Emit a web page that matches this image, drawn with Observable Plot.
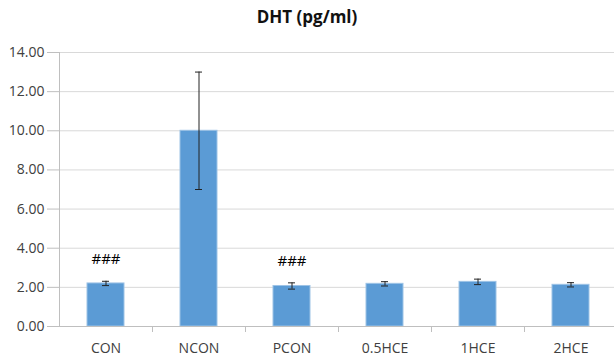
<!DOCTYPE html>
<html><head><meta charset="utf-8">
<script src="https://cdn.jsdelivr.net/npm/d3@7"></script>
<script src="https://cdn.jsdelivr.net/npm/@observablehq/plot@0.6"></script>
<style>
body{margin:0;background:#fff;font-family:"Open Sans",sans-serif;}
#title{height:40px;box-sizing:border-box;padding-top:4.5px;line-height:normal;text-align:center;font-weight:bold;font-size:17px;color:#111;width:614px;}
</style></head>
<body>
<div id="title">DHT (pg/ml)</div>
<div id="chart"></div>
<script>
const categories = ["CON","NCON","PCON","0.5HCE","1HCE","2HCE"];
const means = [2.20, 10.00, 2.07, 2.18, 2.28, 2.13];
const errors = [0.11, 3.00, 0.16, 0.11, 0.14, 0.11];
const marks = ["###", "", "###", "", "", ""];
const yTicks = [0,2,4,6,8,10,12,14];

const data = categories.map((c,i)=>({cat:c, mean:means[i], err:errors[i], mark:marks[i]}));

const chart = Plot.plot({
  width: 614,
  height: 318,
  marginTop: 12,
  marginBottom: 32,
  marginLeft: 59,
  marginRight: 0,
  style: {fontFamily: "Open Sans, sans-serif", fontSize: "14px", color: "#404040", background: "#fff"},
  x: {domain: categories, range: [59.3, 617.3], paddingInner: 0.6, paddingOuter: 0.3, label: null},
  y: {domain: [0,14], label: null},
  marks: [
    Plot.ruleY(yTicks, {stroke: "#d9d9d9", strokeWidth: 1}),
    Plot.axisY({ticks: yTicks, tickSize: 12, tickPadding: 3, tickFormat: d => d.toFixed(2), stroke: "#bfbfbf", fontSize: 14, label: null}),
    Plot.frame({anchor: "left", stroke: "#bfbfbf"}),
    Plot.barY(data, {x: "cat", y: "mean", fill: "#5b9bd5", stroke: "#9dc3e6", strokeWidth: 1}),
    Plot.ruleY([0], {stroke: "#bfbfbf"}),
    Plot.ruleX(categories.slice(1), {x: d => d, y1: 0, y2: 0, insetBottom: -6, dx: -46.5, stroke: "#bfbfbf"}),
    Plot.axisX({tickSize: 0, tickPadding: 17, fontSize: 14, label: null}),
    Plot.ruleX(data, {x: "cat", y1: d => d.mean - d.err, y2: d => d.mean + d.err, stroke: "#222", strokeWidth: 1}),
    Plot.tickY(data, {x: "cat", y: d => d.mean + d.err, stroke: "#222", insetLeft: 15, insetRight: 15}),
    Plot.tickY(data, {x: "cat", y: d => d.mean - d.err, stroke: "#222", insetLeft: 15, insetRight: 15}),
    Plot.text(data.filter(d => d.mark), {x: "cat", y: d => d.mean + d.err, text: "mark", dy: -22, fontSize: 15, fill: "#000"})
  ]
});
document.getElementById("chart").appendChild(chart);
</script>
</body></html>
